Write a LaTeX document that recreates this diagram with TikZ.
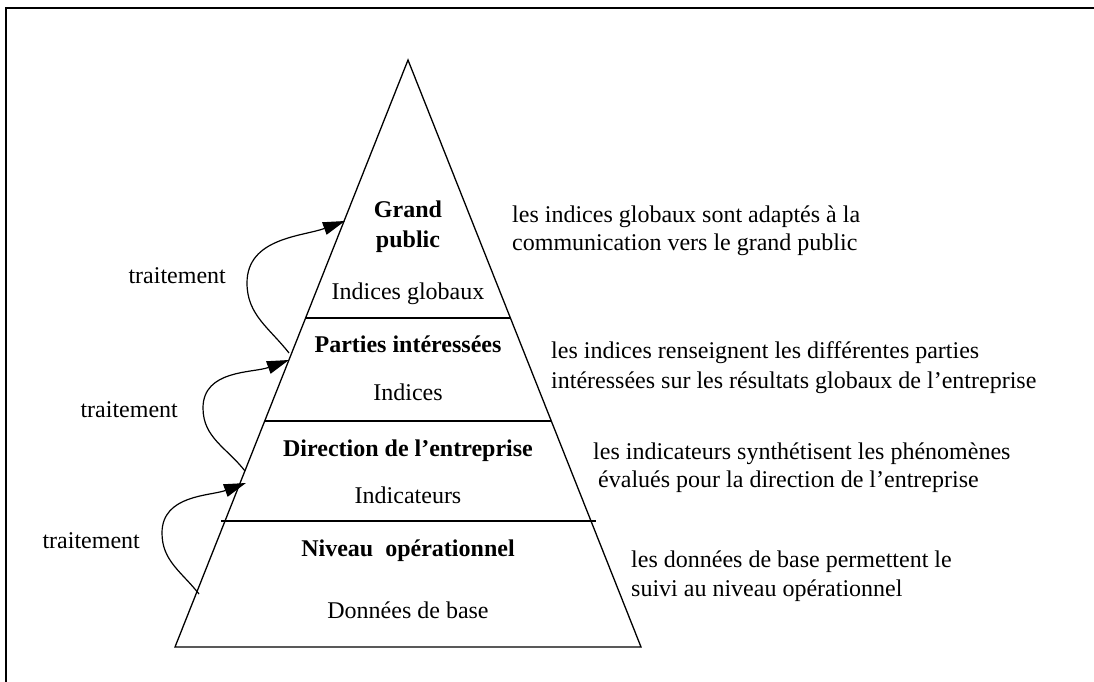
\documentclass[tikz,border=0pt]{standalone}
\usepackage{fontspec}
\setmainfont{Liberation Serif}
\usetikzlibrary{arrows.meta}
\begin{document}
\begin{tikzpicture}[x=1pt,y=-1pt,
  txt/.style={inner sep=0pt, font=\fontsize{24}{28}\selectfont},
  bold/.style={txt, font=\fontsize{24}{28}\selectfont\bfseries},
  pyr/.style={line width=1.3pt, line join=miter},
  frame/.style={line width=2pt},
  flow/.style={line width=1.2pt, -{Triangle[length=22pt,width=13pt]}}]
\useasboundingbox (0,0) rectangle (1094,682);
% frame
\draw[frame] (6,682) -- (6,8) -- (1094,8);
% pyramid
\coordinate (apex) at (408,60);
\coordinate (bl) at (175,647);
\coordinate (br) at (641,647);
\draw[pyr] (apex) -- (bl) -- (br) -- cycle;
\coordinate (l1a) at (305.5,318); \coordinate (l1b) at (510.5,318);
\coordinate (l2a) at (264.7,421); \coordinate (l2b) at (551.3,421);
\coordinate (l3a) at (221,521);   \coordinate (l3b) at (596,521);
\draw[pyr] (l1a) -- (l1b);
\draw[pyr] (l2a) -- (l2b);
\draw[pyr] (l3a) -- (l3b);
% pyramid texts
\node[bold, anchor=base] (gp1) at (408,217) {Grand};
\node[bold, anchor=base] (gp2) at (408,247) {public};
\node[txt, anchor=base] (ig) at (408,299) {Indices globaux};
\node[bold, anchor=base] (pi) at (408,352) {Parties intéressées};
\node[txt, anchor=base] (ind) at (408,400) {Indices};
\node[bold, anchor=base] (de) at (408,456) {Direction de l'entreprise};
\node[txt, anchor=base] (ic) at (408,503) {Indicateurs};
\node[bold, anchor=base] (no) at (408,556) {Niveau\ \ opérationnel};
\node[txt, anchor=base] (db) at (408,618) {Données de base};
% traitement arrows
\coordinate (t1) at (289,353); \coordinate (m1) at (247,283); \coordinate (h1) at (345,221);
\coordinate (t2) at (245,471); \coordinate (m2) at (203,408); \coordinate (h2) at (289,360);
\coordinate (t3) at (199,594); \coordinate (m3) at (162,533); \coordinate (h3) at (246,483);
\draw[flow] (t1) to[out=128,in=-90] (m1) to[out=90,in=200] (h1);
\draw[flow] (t2) to[out=128,in=-90] (m2) to[out=90,in=200] (h2);
\draw[flow] (t3) to[out=128,in=-90] (m3) to[out=90,in=200] (h3);
\node[txt, anchor=base east] (tr1) at (226,283) {traitement};
\node[txt, anchor=base east] (tr2) at (178,417) {traitement};
\node[txt, anchor=base east] (tr3) at (140,548) {traitement};
% right-hand comments
\node[txt, anchor=base west] (c1a) at (512,222) {les indices globaux sont adaptés à la};
\node[txt, anchor=base west] (c1b) at (512,250) {communication vers le grand public};
\node[txt, anchor=base west] (c2a) at (551,358) {les indices renseignent les différentes parties};
\node[txt, anchor=base west] (c2b) at (551,388) {intéressées sur les résultats globaux de l’entreprise};
\node[txt, anchor=base west] (c3a) at (593,459) {les indicateurs synthétisent les phénomènes};
\node[txt, anchor=base west] (c3b) at (598,487) {évalués pour la direction de l’entreprise};
\node[txt, anchor=base west] (c4a) at (631,567) {les données de base permettent le};
\node[txt, anchor=base west] (c4b) at (631,596) {suivi au niveau opérationnel};
\end{tikzpicture}
\end{document}
